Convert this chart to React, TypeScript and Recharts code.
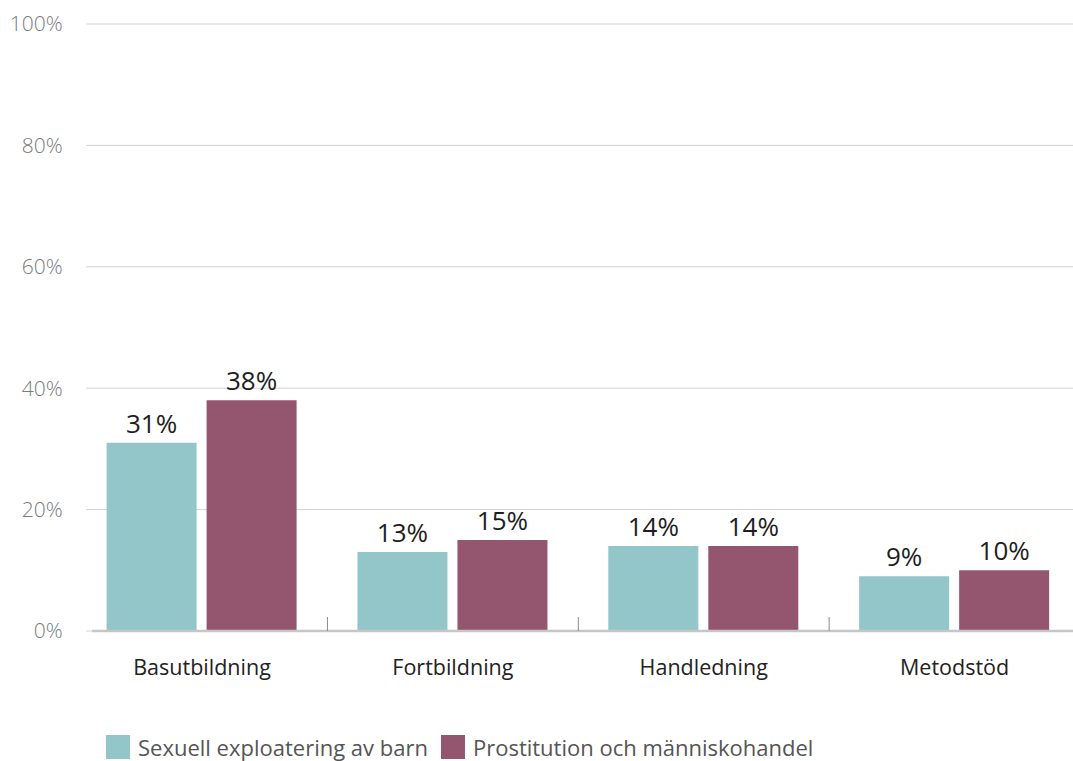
import { BarChart, Bar, XAxis, YAxis, CartesianGrid, LabelList, Legend, ReferenceLine } from 'recharts';

const categories = ['Basutbildning', 'Fortbildning', 'Handledning', 'Metodstöd'];
const barnValues = [31, 13, 14, 9];
const prostValues = [38, 15, 14, 10];
const yTicks = [0, 20, 40, 60, 80, 100];

const seriesNames = {
  barn: 'Sexuell exploatering av barn',
  prost: 'Prostitution och människohandel',
};

const TEAL = '#92c6c8';
const MAROON = '#94566e';
const FONT = '"Open Sans", Lato, sans-serif';
const TICK_MARGIN = 29;

const data = categories.map((name, i) => ({
  name,
  barn: barnValues[i],
  prost: prostValues[i],
}));

const CategoryTick = ({ x, y, payload, index }: any) => {
  const half = payload?.offset ?? 0;
  const base = y - TICK_MARGIN;
  return (
    <g>
      {index > 0 && (
        <line x1={x - half} x2={x - half} y1={base - 14} y2={base} stroke="#8a8a8a" strokeWidth={1} />
      )}
      <text x={x} y={y} dy="0.71em" textAnchor="middle" fill="#222" fontSize={21.5} fontFamily={FONT}>
        {payload.value}
      </text>
    </g>
  );
};

const gridLine = (p: any) => (
  <line key={p.key} x1={p.x1 + 9.5} x2={p.x2} y1={p.y1} y2={p.y2} stroke="#d2d2d2" strokeWidth={1} />
);

const axisShape = (p: any) => (
  <line x1={p.x1 + 15.5} x2={p.x2} y1={p.y1} y2={p.y2} stroke="#c6c6c6" strokeWidth={2.5} />
);

const LegendContent = () => (
  <div style={{ display: 'flex', alignItems: 'center', paddingLeft: 98, height: 26, lineHeight: '24px', fontFamily: FONT, fontSize: 22, color: '#555' }}>
    {[
      { name: seriesNames.barn, color: TEAL },
      { name: seriesNames.prost, color: MAROON },
    ].map((item) => (
      <div key={item.name} style={{ display: 'flex', alignItems: 'center', marginRight: 13 }}>
        <span style={{ display: 'inline-block', width: 24, height: 24, background: item.color, marginRight: 8 }} />
        <span>{item.name}</span>
      </div>
    ))}
  </div>
);

export default function App() {
  return (
    <div style={{ position: 'fixed', left: 0, top: 0, width: 1073, height: 761, overflow: 'hidden', background: '#fff' }}>
      <div style={{ position: 'absolute', left: 8, top: 8 }}>
        <BarChart
          width={1072}
          height={752}
          data={data}
          margin={{ top: 16, right: 0, left: 0, bottom: 0 }}
          barGap={10}
          barSize={90}
        >
          <CartesianGrid vertical={false} horizontal={gridLine} />
          <YAxis
            width={68.6}
            domain={[0, 100]}
            ticks={yTicks}
            tickFormatter={(v) => `${v}%`}
            axisLine={false}
            tickLine={false}
            tickMargin={8}
            tick={{ fill: '#7a7a7a', fontSize: 21, fontFamily: FONT, fontWeight: 300 }}
          />
          <XAxis
            dataKey="name"
            height={103}
            axisLine={false}
            tickLine={false}
            tickSize={0}
            tickMargin={TICK_MARGIN}
            tick={<CategoryTick />}
            interval={0}
          />
          <Bar dataKey="barn" name={seriesNames.barn} fill={TEAL} isAnimationActive={false}>
            <LabelList dataKey="barn" position="top" offset={10} formatter={(v: any) => `${v}%`} fill="#1e1e1e" fontSize={26} fontWeight={500} fontFamily={FONT} />
          </Bar>
          <Bar dataKey="prost" name={seriesNames.prost} fill={MAROON} isAnimationActive={false}>
            <LabelList dataKey="prost" position="top" offset={10} formatter={(v: any) => `${v}%`} fill="#1e1e1e" fontSize={26} fontWeight={500} fontFamily={FONT} />
          </Bar>
          <ReferenceLine y={0} shape={axisShape} />
          <Legend verticalAlign="bottom" align="left" content={<LegendContent />} />
        </BarChart>
      </div>
    </div>
  );
}
